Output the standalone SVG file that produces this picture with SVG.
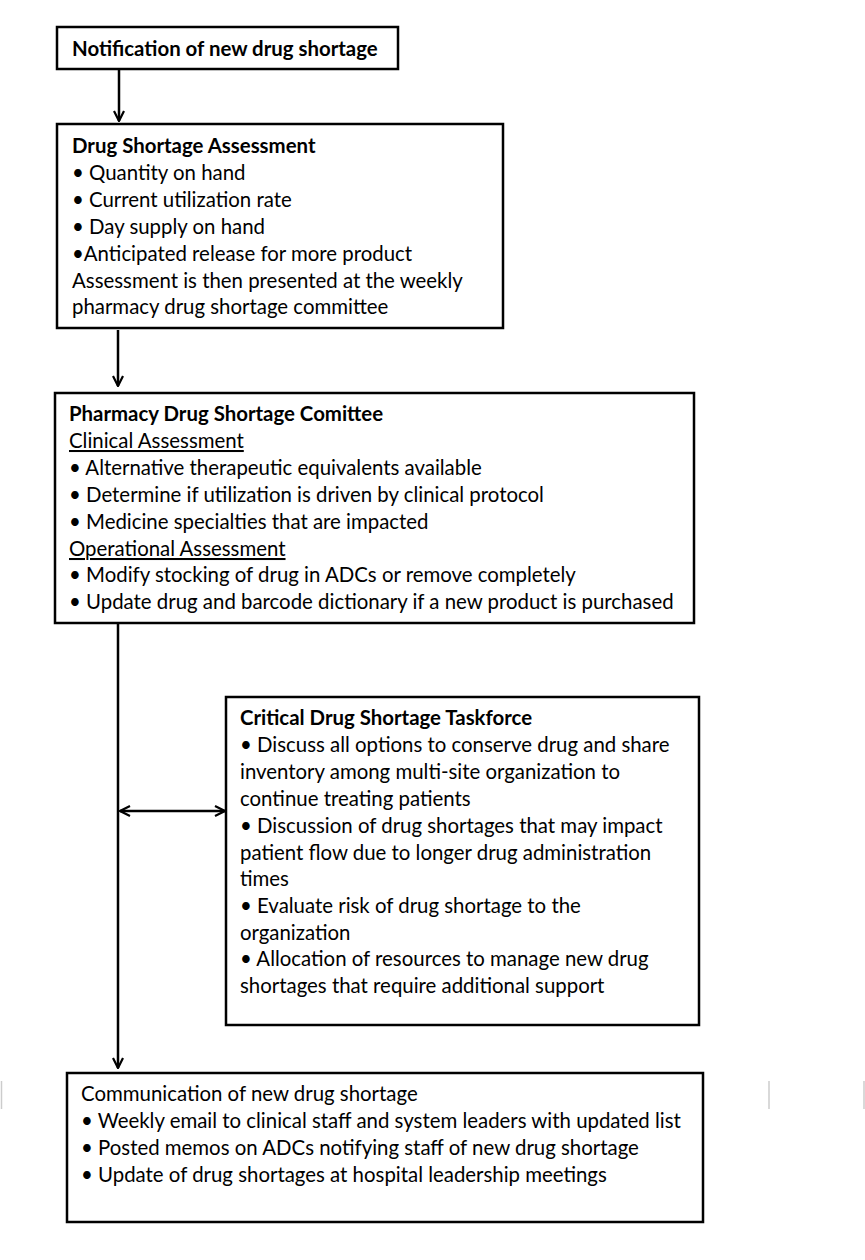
<svg xmlns="http://www.w3.org/2000/svg" width="865" height="1260" viewBox="0 0 865 1260">
<style>
.box{fill:#fff;stroke:#000;stroke-width:2.5}
text{font-family:Lato,"Liberation Sans",sans-serif;font-size:20.4px;fill:#000}
.b{font-weight:bold}
.u{text-decoration:underline}
.ln{stroke:#000;stroke-width:2.5;fill:none}
</style>
<defs>
<marker id="arr" viewBox="0 0 12 12" refX="11" refY="6" markerWidth="12" markerHeight="12" markerUnits="userSpaceOnUse" orient="auto-start-reverse">
<path d="M1,1 L11,6 L1,11" fill="none" stroke="#000" stroke-width="2.2"/>
</marker>
</defs>
<rect width="865" height="1260" fill="#fff"/>
<g id="connectors">
<line class="ln" x1="119" y1="69" x2="119" y2="121" marker-end="url(#arr)"/>
<line class="ln" x1="118" y1="330" x2="118" y2="386" marker-end="url(#arr)"/>
<line class="ln" x1="118" y1="623" x2="118" y2="1068" marker-end="url(#arr)"/>
<line class="ln" x1="120" y1="811" x2="225" y2="811" marker-start="url(#arr)" marker-end="url(#arr)"/>
</g>
<g id="notification">
<rect class="box" x="57" y="27" width="341" height="42"/>
<text class="b" x="72" y="56">Notification of new drug shortage</text>
</g>
<g id="assessment">
<rect class="box" x="57" y="124" width="446" height="204"/>
<text class="b" x="72" y="153">Drug Shortage Assessment</text>
<text x="72" y="180">• Quantity on hand</text>
<text x="72" y="207">• Current utilization rate</text>
<text x="72" y="234">• Day supply on hand</text>
<text x="72" y="261">•Anticipated release  for more product</text>
<text x="72" y="288">Assessment is then presented at the weekly</text>
<text x="72" y="314">pharmacy drug shortage committee</text>
</g>
<g id="committee">
<rect class="box" x="55" y="393" width="639" height="230"/>
<text class="b" x="69" y="421">Pharmacy Drug Shortage Comittee</text>
<text class="u" x="69" y="448">Clinical Assessment</text>
<text x="69" y="475">• Alternative therapeutic equivalents available</text>
<text x="69" y="502">• Determine if utilization is driven by clinical protocol</text>
<text x="69" y="529">• Medicine specialties that are impacted</text>
<text class="u" x="69" y="556">Operational Assessment</text>
<text x="69" y="582">• Modify stocking of drug in ADCs or remove completely</text>
<text x="69" y="609">• Update drug and barcode dictionary if a new product is purchased</text>
</g>
<g id="taskforce">
<rect class="box" x="226" y="697" width="473" height="328"/>
<text class="b" x="240" y="725">Critical Drug Shortage Taskforce</text>
<text x="240" y="752">• Discuss all options to conserve drug and share</text>
<text x="240" y="779">inventory among multi-site organization to</text>
<text x="240" y="806">continue treating patients</text>
<text x="240" y="833">• Discussion of drug shortages that may impact</text>
<text x="240" y="860">patient flow due to longer drug administration</text>
<text x="240" y="886">times</text>
<text x="240" y="913">• Evaluate risk of drug shortage to the</text>
<text x="240" y="940">organization</text>
<text x="240" y="966">• Allocation of resources to manage new drug</text>
<text x="240" y="993">shortages that require additional support</text>
</g>
<g id="communication">
<rect class="box" x="67" y="1073" width="636" height="149"/>
<text x="81" y="1101">Communication of new drug shortage</text>
<text x="81" y="1128">• Weekly email to clinical staff and system leaders with updated list</text>
<text x="81" y="1155">• Posted memos on ADCs notifying staff of new drug shortage</text>
<text x="81" y="1182">• Update of drug shortages at hospital leadership meetings</text>
</g>
<g id="marks">
<line x1="1.5" y1="1081" x2="1.5" y2="1109" stroke="#ccc" stroke-width="1.5"/>
<line x1="769" y1="1081" x2="769" y2="1109" stroke="#ccc" stroke-width="1.5"/>
<line x1="864" y1="1081" x2="864" y2="1109" stroke="#ccc" stroke-width="1.5"/>
</g>
</svg>
